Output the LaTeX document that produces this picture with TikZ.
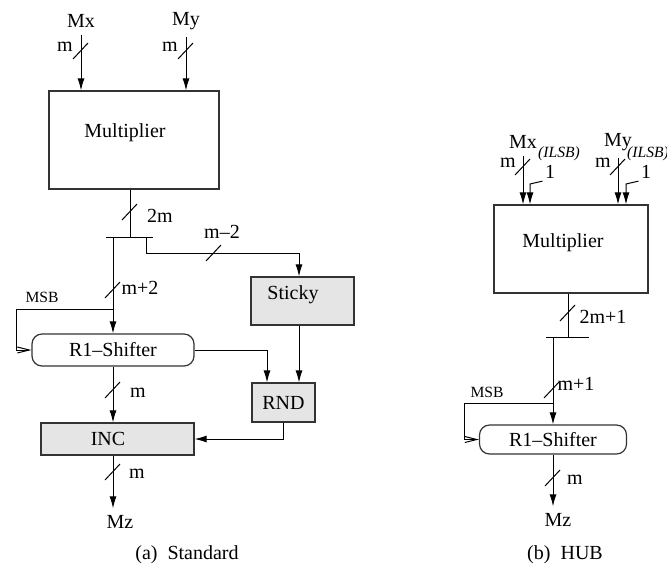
\documentclass[tikz,border=0pt]{standalone}
\usepackage{fontspec}
\setmainfont{Liberation Serif}
\usetikzlibrary{arrows.meta}
\tikzset{
    plain box/.style={rectangle,draw=black!80,line width=0.6pt,inner sep=0pt},
    grey box/.style={plain box,fill=black!10},
    shift box/.style={plain box,rounded corners=5pt},
    small label/.style={inner sep=0pt,font=\fontsize{7.8}{9}\selectfont},
    ilsb label/.style={inner sep=0pt,font=\fontsize{7.8}{9}\selectfont\itshape},
    open tip/.style={-{Straight Barb[length=6pt,width=3pt]}}
}
\newcommand{\busmark}[1]{\draw #1 +(-8,8) -- +(7,-8);}

\begin{document}
\begin{tikzpicture}[>={Latex[length=6pt,width=3.5pt]},x=0.5pt,y=-0.5pt,line width=0.5pt]
    \useasboundingbox (0,0) rectangle (667,568);

    % (a) standard
    \node (mxA) at (81,21) {Mx};
    \node (myA) at (186,21) {My};
    \node[plain box,minimum width=85pt,minimum height=49pt,
          label={[xshift=-4.5pt,yshift=3.5pt]center:Multiplier}] (mulA) at (134,140) {};
    \draw[->] (mxA.south) -- (mxA.south |- mulA.north);
    \draw[->] (myA.south) -- (myA.south |- mulA.north);
    \busmark{(81,51)}  \node (wA1) at (65,47) {m};
    \busmark{(186,51)} \node (wA2) at (170,47) {m};

    \coordinate (barA) at (130,237);
    \coordinate (tapL) at (113,237);
    \coordinate (tapR) at (146,237);
    \draw (barA |- mulA.south) -- (barA);
    \draw ([xshift=-12pt]barA) -- ([xshift=11.5pt]barA);
    \busmark{(130,212)} \node (wA3) at (160,216) {2m};

    \node[shift box,minimum width=81pt,minimum height=16pt] (shA) at (113,350) {R1--Shifter};
    \draw[->] (tapL) -- (tapL |- shA.north);
    \busmark{(113,290)} \node[anchor=west,inner sep=0pt] (wA4) at (121,288) {m+2};
    \coordinate (msbA) at (113,309);
    \coordinate (loopA) at (16,309);
    \node[small label] (msbLblA) at (42,297) {MSB};
    \draw[open tip] (msbA) -- (loopA) |- (shA.west);

    \node[grey box,minimum width=51.5pt,minimum height=24pt,
          label={[xshift=-4.75pt,yshift=3pt]center:Sticky}] (stk) at (302.5,301) {};
    \coordinate (bendR) at (146,253);
    \draw[->] (tapR) -- (bendR) -| ([xshift=-1.75pt]stk.north);
    \busmark{(214,253)} \node (wA5) at (222,232) {m--2};

    \node[grey box,minimum width=31.5pt,minimum height=19.5pt] (rnd) at (283.5,402.5) {RND};
    \draw[->] ([xshift=-1.75pt]stk.south) -- ([xshift=-1.75pt]stk.south |- rnd.north);
    \draw[->] (shA.east) -| ([xshift=-8.25pt]rnd.north);

    \node[grey box,minimum width=76.5pt,minimum height=16pt,
          label={[xshift=-4.75pt]center:INC}] (inc) at (117.5,439) {};
    \draw[->] (shA.south) -- (shA.south |- inc.north);
    \busmark{(113,390)} \node (wA6) at (138,393) {m};
    \draw[->] (rnd.south) |- (inc.east);

    \node (mzA) at (120,522) {Mz};
    \draw[->] (inc.south -| shA) -- (mzA.north -| shA);
    \busmark{(113,472)} \node (wA7) at (137,474) {m};
    \node (capA) at (187,555) {(a)\enspace Standard};

    % (b) HUB
    \node (mxB) at (523,142) {Mx};
    \node (myB) at (618,142) {My};
    \node[plain box,minimum width=77pt,minimum height=44pt,
          label={[xshift=-4pt,yshift=3pt]center:Multiplier}] (mulB) at (571,249) {};
    \draw[->] (mxB.south) -- (mxB.south |- mulB.north);
    \draw[->] (myB.south) -- (myB.south |- mulB.north);
    \busmark{(523,167)} \node (wB1) at (508,163) {m};
    \busmark{(618,167)} \node (wB2) at (603,163) {m};

    \node[inner sep=0pt] (oneX) at (550,172) {1};
    \node[inner sep=0pt] (oneY) at (646,172) {1};
    \node[ilsb label] (ilsbX) at (559,154) {(ILSB)};
    \node[ilsb label] (ilsbY) at (648,154) {(ILSB)};
    \coordinate (kinkX) at (530,184);
    \coordinate (kinkY) at (626,184);
    \draw[->] ([shift={(-1pt,-1pt)}]oneX.south west) -- (kinkX) -- (kinkX |- mulB.north);
    \draw[->] ([shift={(-1pt,-1pt)}]oneY.south west) -- (kinkY) -- (kinkY |- mulB.north);

    \coordinate (barB) at (568,337);
    \coordinate (tapB) at (553,337);
    \draw (barB |- mulB.south) -- (barB);
    \draw ([xshift=-11pt]barB) -- ([xshift=10.5pt]barB);
    \busmark{(568,313)} \node (wB3) at (603,317) {2m+1};

    \node[shift box,minimum width=73.5pt,minimum height=14.5pt] (shB) at (553,439.5) {R1--Shifter};
    \draw[->] (tapB) -- (tapB |- shB.north);
    \busmark{(552,390)} \node[anchor=west,inner sep=0pt] (wB4) at (557,384) {m+1};
    \coordinate (msbB) at (553,403);
    \coordinate (loopB) at (464,403);
    \node[small label] (msbLblB) at (487,392) {MSB};
    \draw[open tip] (msbB) -- (loopB) |- (shB.west);

    \node (mzB) at (558,520) {Mz};
    \draw[->] (shB.south) -- (mzB.north -| shB);
    \busmark{(553,478)} \node (wB5) at (575,480) {m};
    \node (capB) at (565,555) {(b)\enspace HUB};
\end{tikzpicture}
\end{document}
